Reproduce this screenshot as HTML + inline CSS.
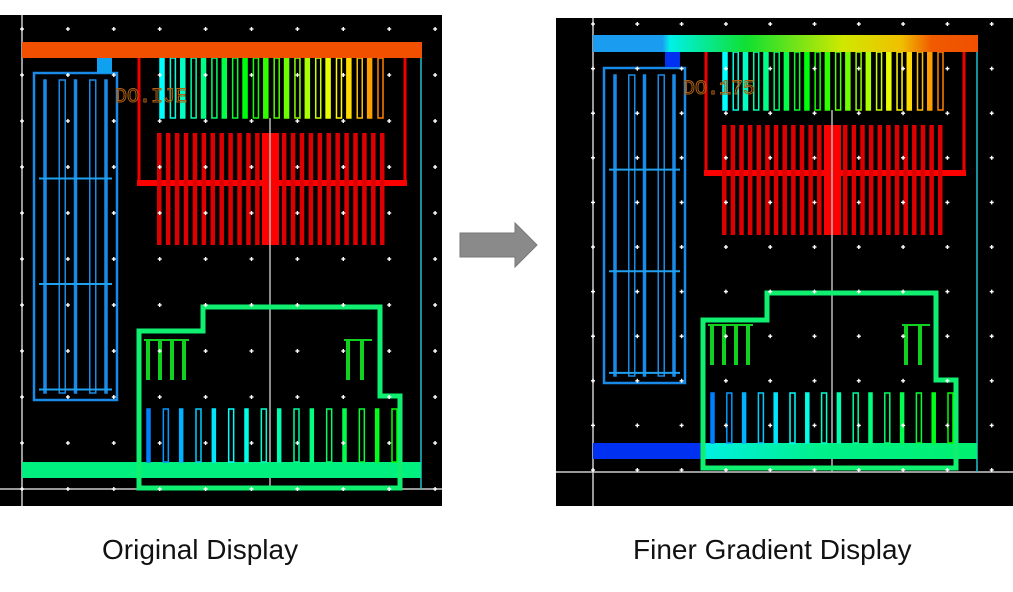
<!DOCTYPE html>
<html><head><meta charset="utf-8"><style>
body{margin:0;width:1013px;height:592px;background:#fff;overflow:hidden;font-family:"Liberation Sans",sans-serif}
svg{position:absolute;left:0;top:0}
.lbl{position:absolute;font-size:28px;color:#111;white-space:nowrap;line-height:30px}
</style></head><body>
<svg id="s" width="1013" height="592" xmlns="http://www.w3.org/2000/svg">
<defs>
<linearGradient id="topg" x1="0" x2="1"><stop offset="0" stop-color="#1a9cf0"/><stop offset="0.18" stop-color="#1a9cf0"/><stop offset="0.2" stop-color="#00f0e8"/><stop offset="0.4" stop-color="#10e030"/><stop offset="0.65" stop-color="#d0e800"/><stop offset="0.8" stop-color="#f0c000"/><stop offset="0.88" stop-color="#f05a00"/><stop offset="1" stop-color="#f05000"/></linearGradient>
<linearGradient id="botg" x1="0" x2="1"><stop offset="0" stop-color="#0a9af0"/><stop offset="0.15" stop-color="#00c8f0"/><stop offset="0.3" stop-color="#00f0e0"/><stop offset="0.6" stop-color="#00f08a"/><stop offset="1" stop-color="#00f070"/></linearGradient>
</defs>
<rect x="0" y="15" width="442" height="491" fill="#000"/>
<rect x="556" y="18" width="457" height="488" fill="#000"/>
<g id="L"></g><g id="R"></g>
<polygon points="460,233 515,233 515,223 537,245 515,267 515,257 460,257" fill="#8a8a8a" stroke="#777"/>
</svg>
<div class="lbl" style="left:102px;top:535px">Original Display</div>
<div class="lbl" style="left:633px;top:535px">Finer Gradient Display</div>
<script>
var NS="http://www.w3.org/2000/svg";
function el(p,t,a){var e=document.createElementNS(NS,t);for(var k in a)e.setAttribute(k,a[k]);p.appendChild(e);return e;}
function hsl(h){return "hsl("+h+",100%,50%)";}
function panel(g,o){
 el(g,"line",{x1:o.gx,y1:o.y0,x2:o.gx,y2:506,stroke:"#ccc","stroke-width":1.5});
 el(g,"line",{x1:o.x0,y1:o.gy,x2:o.x1,y2:o.gy,stroke:"#ccc","stroke-width":1.5});
 el(g,"line",{x1:o.cx,y1:o.barY+o.barH,x2:o.cx,y2:o.gy,stroke:"#20c0d0","stroke-width":1.5});
 el(g,"rect",{x:o.bx,y:o.by,width:o.bw,height:o.bh,fill:"none",stroke:"#1a8ae8","stroke-width":2.5});
 el(g,"rect",{x:o.sqx,y:o.barY+o.barH,width:15,height:15,fill:o.sqc});
 for(var i=0;i<5;i++){var x=o.bx+10+i*(o.bw-22)/4;el(g,"rect",{x:x,y:o.by+7,width:i%2?6:2,height:o.bh-14,fill:i%2?"none":"#1a8ae8",stroke:"#1a8ae8","stroke-width":1.5});}
 for(var j=1;j<4;j++){var y=o.by+j*o.bh/3.1;el(g,"line",{x1:o.bx+5,y1:y,x2:o.bx+o.bw-5,y2:y,stroke:"#20a0f0","stroke-width":2});}
 el(g,"polyline",{points:o.ux0+","+o.barY+" "+o.ux0+","+(o.uy+3)+" "+o.ux1+","+(o.uy+3)+" "+o.ux1+","+o.barY,fill:"none",stroke:"#e00","stroke-width":3});
 el(g,"rect",{x:o.ux0-2,y:o.uy,width:o.ux1-o.ux0+4,height:6,fill:"#f00"});
 var n=22;for(var i=0;i<n;i++){var x=o.fx0+i*(o.fx1-o.fx0)/(n-1);var h=180-i*150/(n-1);
  el(g,"rect",{x:x,y:o.barY+o.barH,width:i%2?5:4,height:o.fh,fill:i%2?"none":hsl(h),stroke:hsl(h),"stroke-width":1.5});}
 for(var i=0;i<26;i++){var x=o.rx0+i*(o.rx1-o.rx0)/25;el(g,"rect",{x:x,y:o.ry,width:4.5,height:o.rh,fill:"#d00"});}
 el(g,"rect",{x:o.mx-8,y:o.ry,width:17,height:o.rh,fill:"#f00"});
 el(g,"line",{x1:o.mx,y1:o.barY+o.barH+o.fh,x2:o.mx,y2:o.gy,stroke:"#bbb","stroke-width":1.5});
 el(g,"rect",{x:o.x0b,y:o.bbY,width:o.cx-o.x0b,height:16,fill:o.bbFill});
 if(o.bbBlue)el(g,"rect",{x:o.x0b,y:o.bbY,width:o.px-o.x0b,height:16,fill:"#0030f0"});
 el(g,"polygon",{points:o.poly,fill:"none",stroke:"#10f070","stroke-width":5});
 for(var i=0;i<16;i++){var x=o.px+8+i*(o.bfx1-o.px-8)/15;var h=210-i*90/15;
  el(g,"rect",{x:x,y:o.bfy,width:i%2?5:3,height:o.bfh,fill:i%2?"none":hsl(h),stroke:hsl(h),"stroke-width":1.5});}
 for(var i=0;i<4;i++)el(g,"rect",{x:o.px+7+i*12,y:o.sgy,width:4,height:40,fill:"#10d020"});
 el(g,"line",{x1:o.px+5,y1:o.sgy,x2:o.px+50,y2:o.sgy,stroke:"#10d020","stroke-width":2});
 for(var i=0;i<2;i++)el(g,"rect",{x:o.sgx2+i*14,y:o.sgy,width:4,height:40,fill:"#10d020"});
 el(g,"line",{x1:o.sgx2-2,y1:o.sgy,x2:o.sgx2+26,y2:o.sgy,stroke:"#10d020","stroke-width":2});
 el(g,"rect",{x:o.gx,y:o.barY,width:o.cx-o.gx+1,height:o.barH,fill:o.barFill});
 var t=el(g,"text",{x:o.tx,y:o.ty,fill:"none",stroke:"#b06010","stroke-width":1,"font-size":20,"font-family":"Liberation Mono"});t.textContent=o.txt;
 for(var a=0;a<10;a++)for(var b=0;b<11;b++){var cx=o.dx+a*o.ds,cy=o.dy+b*o.dsy;
  el(g,"rect",{x:cx-2,y:cy-0.7,width:4,height:1.4,fill:"#fff"});el(g,"rect",{x:cx-0.7,y:cy-2,width:1.4,height:4,fill:"#fff"});}
}
panel(document.getElementById("L"),{x0:0,x1:442,y0:15,gx:22,gy:489,cx:421,barY:42,barH:16,barFill:"#f05000",
 bx:34,by:73,bw:83,bh:327,sqx:97,sqc:"#10a0f0",ux0:139,ux1:405,uy:180,fx0:160,fx1:378,fh:60,rx0:157,rx1:380,ry:133,rh:112,mx:270,
 x0b:22,bbY:462,bbFill:"#00f080",bbBlue:false,px:139,poly:"139,331 203,331 203,307 380,307 380,396 400,396 400,488 139,488",
 bfx1:392,bfy:409,bfh:53,sgy:340,sgx2:346,tx:115,ty:102,txt:"DO.IJE",dx:22,ds:45.9,dy:29,dsy:46});
panel(document.getElementById("R"),{x0:556,x1:1013,y0:18,gx:593,gy:472,cx:977,barY:35,barH:17,barFill:"url(#topg)",
 bx:604,by:68,bw:81,bh:315,sqx:665,sqc:"#0030f0",ux0:706,ux1:964,uy:170,fx0:723,fx1:938,fh:58,rx0:722,rx1:938,ry:125,rh:110,mx:832,
 x0b:593,bbY:443,bbFill:"url(#botg)",bbBlue:true,px:703,poly:"703,320 767,320 767,293 936,293 936,380 956,380 956,468 703,468",
 bfx1:948,bfy:393,bfh:50,sgy:325,sgx2:904,tx:683,ty:94,txt:"DO.175",dx:593,ds:44.3,dy:24,dsy:44.6});
</script>
</body></html>
